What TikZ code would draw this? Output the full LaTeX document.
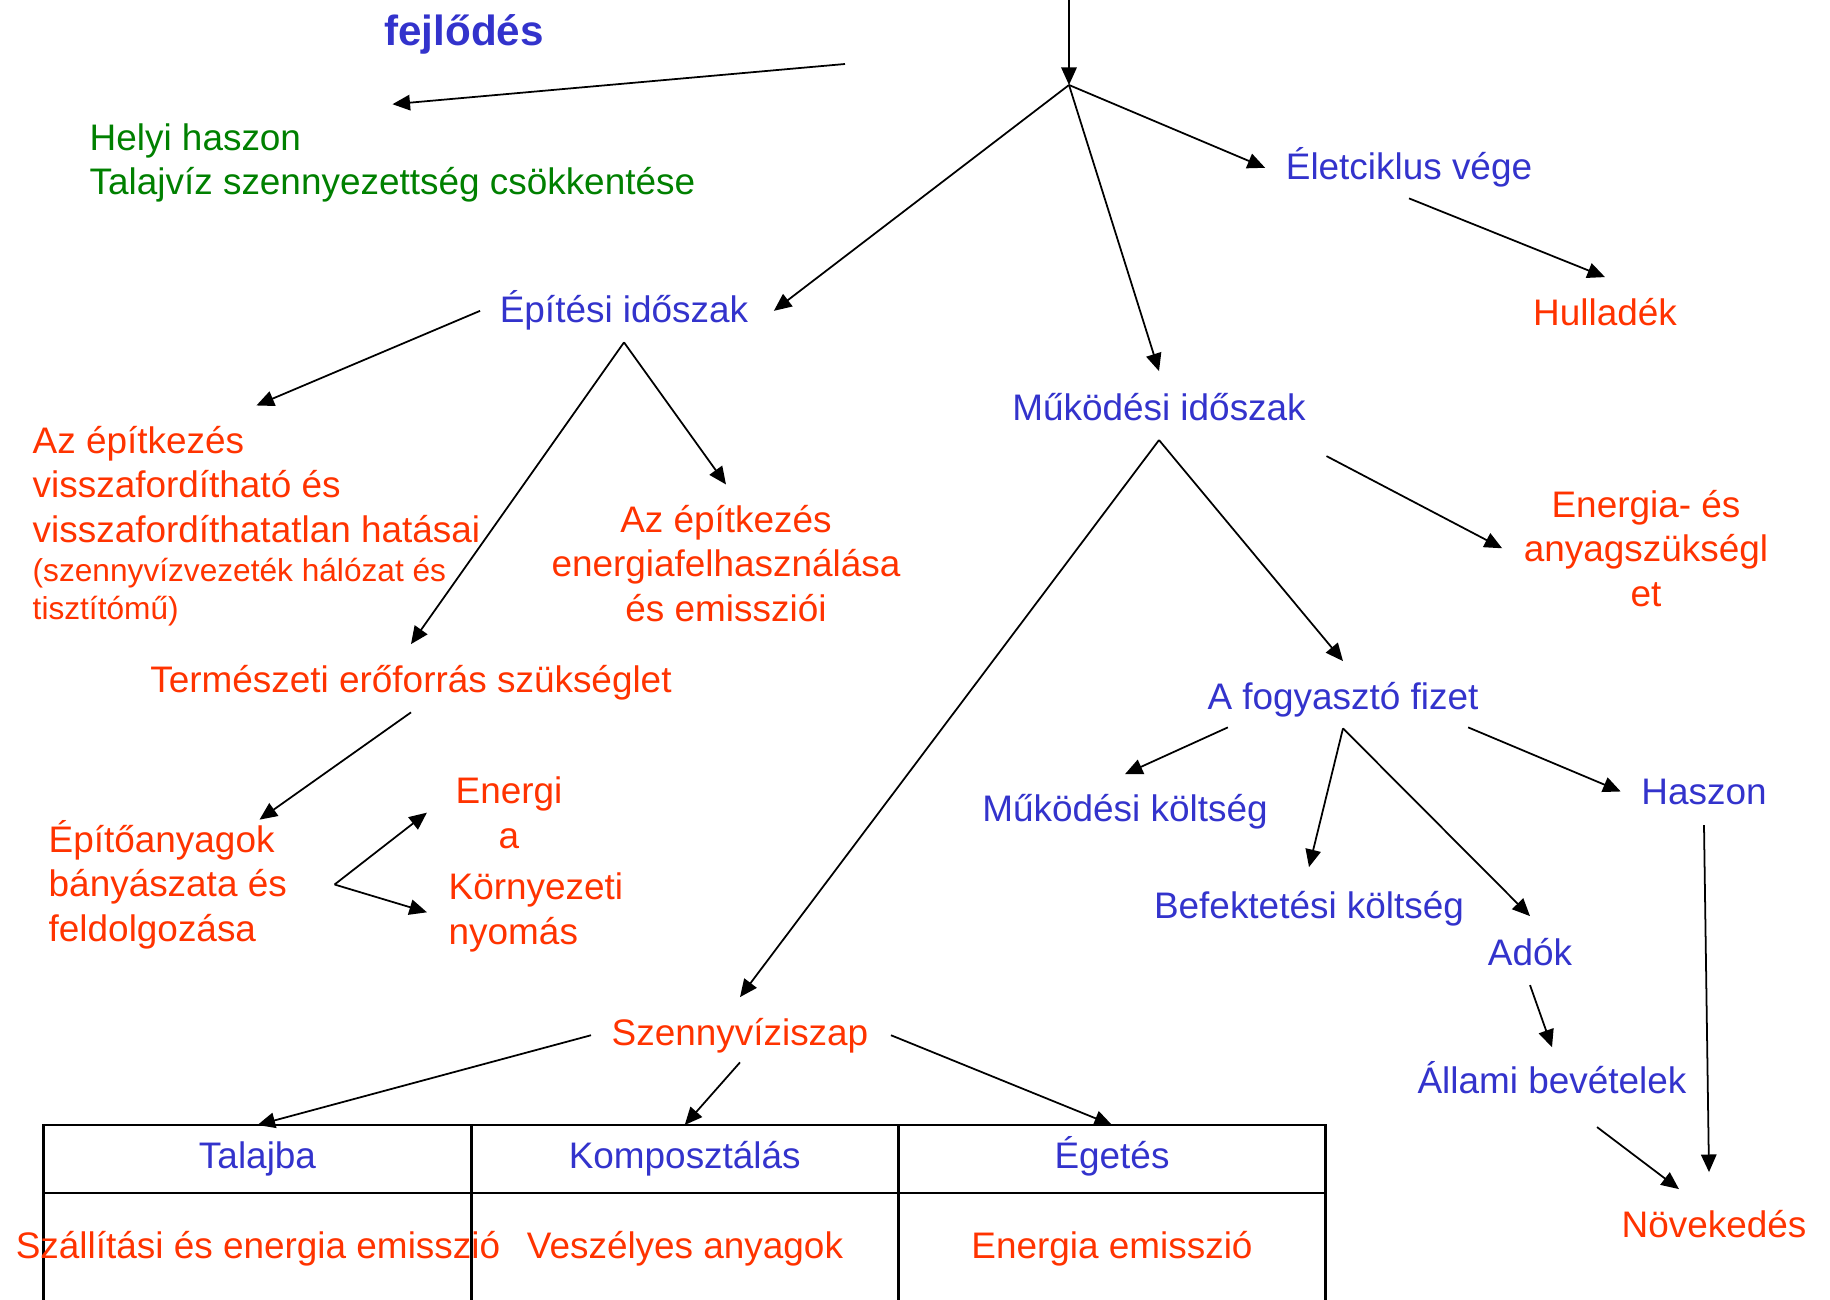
\documentclass[tikz,border=0pt]{standalone}
\usepackage{fontspec}
\setmainfont{Liberation Sans}
\usetikzlibrary{arrows.meta, positioning}
\definecolor{ppblue}{RGB}{51,51,204}
\definecolor{ppred}{RGB}{255,51,0}
\definecolor{ppgreen}{RGB}{0,128,0}
\tikzset{
    lbl/.style={inner sep=0pt, font=\fontsize{10.5}{12.6}\selectfont},
    blue lbl/.style={lbl, text=ppblue},
    red lbl/.style={lbl, text=ppred},
    arr/.style={-{Triangle[length=5pt, width=4.4pt]}, line width=0.5pt},
    cell/.style={draw, line width=0.8pt, minimum width=4.27cm, minimum height=0.68cm,
        inner sep=0pt, outer sep=0pt, text height=0.73em, text depth=0.21em,
        font=\fontsize{10.5}{12.6}\selectfont, text=ppblue},
}
\begin{document}
\begin{tikzpicture}[x=0.01cm, y=-0.01cm]
    \useasboundingbox (0, 0) rectangle (1830, 1300);
    \clip (0, 0) rectangle (1830, 1300);
    \node[anchor=base, inner sep=0pt, text=ppblue, font=\bfseries\fontsize{12}{14}\selectfont] (title) at (464, 46) {fejlődés};
    \node[lbl, text=ppgreen, align=left, anchor=base west] (helyi) at (89, 195) {Helyi haszon\\Talajvíz szennyezettség csökkentése};
    \coordinate (topin) at (1069, -5);
    \coordinate (hub) at (1069, 85);
    \coordinate (helyiin) at (845, 64);
    \node[blue lbl, anchor=base] (eletc) at (1409, 180) {Életciklus vége};
    \node[red lbl, anchor=base] (hull) at (1605, 325) {Hulladék};
    \node[blue lbl, anchor=base] (epit) at (624, 323) {Építési időszak};
    \node[red lbl, align=left, anchor=base west] (hatas) at (32, 542) {Az építkezés\\visszafordítható és\\visszafordíthatatlan hatásai};
    \node[red lbl, font=\fontsize{9}{10.6}\selectfont, align=left, anchor=base west] (hatasnote) at (32, 619) {(szennyvízvezeték hálózat és\\tisztítómű)};
    \node[red lbl, align=center, anchor=base] (energ) at (726, 621) {Az építkezés\\energiafelhasználása\\és emissziói};
    \node[red lbl, anchor=base] (termesz) at (411, 692) {Természeti erőforrás szükséglet};
    \node[red lbl, align=left, anchor=base west] (epito) at (48, 941) {Építőanyagok\\bányászata és\\feldolgozása};
    \node[red lbl, align=center, anchor=base] (enrg) at (509, 848) {Energi\\a};
    \node[red lbl, align=left, anchor=base west] (korny) at (448, 944) {Környezeti\\nyomás};
    \node[blue lbl, anchor=base] (mukod) at (1159, 420) {Működési időszak};
    \node[red lbl, align=center, anchor=base] (enany) at (1646, 606) {Energia- és\\anyagszükségl\\et};
    \node[blue lbl, anchor=base] (fogy) at (1343, 709) {A fogyasztó fizet};
    \node[blue lbl, anchor=base] (mkolt) at (1125, 821) {Működési költség};
    \node[blue lbl, anchor=base] (befekt) at (1309, 918) {Befektetési költség};
    \node[blue lbl, anchor=base] (adok) at (1530, 965) {Adók};
    \node[blue lbl, anchor=base] (haszon) at (1704, 804) {Haszon};
    \node[blue lbl, anchor=base] (allami) at (1552, 1093) {Állami bevételek};
    \node[red lbl, anchor=base] (novek) at (1714, 1237) {Növekedés};
    \node[red lbl, anchor=base] (szenny) at (740, 1045) {Szennyvíziszap};
    \node[cell] (talaj) at (257.5, 1159) {Talajba};
    \node[cell, right=0pt of talaj] (kompo) {Komposztálás};
    \node[cell, right=0pt of kompo] (eget) {Égetés};
    \draw[line width=0.8pt] (talaj.south west) to ++(0, 200);
    \foreach \c in {talaj, kompo, eget}
        \draw[line width=0.8pt] (\c.south east) to ++(0, 200);
    \node[red lbl, anchor=base] (szall) at (258, 1258) {Szállítási és energia emisszió};
    \node[red lbl, anchor=base] (veszely) at (685, 1258) {Veszélyes anyagok};
    \node[red lbl, anchor=base] (egetem) at (1112, 1258) {Energia emisszió};
    \coordinate (epitfork) at ([yshift=-0.11cm]epit.south);
    \coordinate (epitofork) at ([xshift=0.47cm]epito.east);
    \coordinate (mukodfork) at ([yshift=-0.19cm]mukod.south);
    \coordinate (fogyfork) at ([yshift=-0.11cm]fogy.south);
    \draw[arr] (topin) to (hub);
    \draw[arr] (helyiin) to ([yshift=0.19cm]helyi.north);
    \draw[arr] (hub) to ([xshift=-0.2cm]eletc.west);
    \draw[arr] ([yshift=-0.1cm]eletc.south) to ([yshift=0.2cm]hull.north);
    \draw[arr] (hub) to ([xshift=0.25cm]epit.east);
    \draw[arr] (hub) to ([yshift=0.21cm]mukod.north);
    \draw[arr] ([xshift=-0.19cm]epit.west) to ([yshift=0.2cm]hatas.north);
    \draw[arr] (epitfork) to ([yshift=0.2cm]termesz.north);
    \draw[arr] (epitfork) to ([yshift=0.2cm]energ.north);
    \draw[arr] ([yshift=-0.12cm]termesz.south) to ([xshift=-0.28cm]epito.north east);
    \draw[arr] (epitofork) to ([xshift=-0.28cm]enrg.west);
    \draw[arr] (epitofork) to ([xshift=-0.21cm]korny.west);
    \draw[arr] (mukodfork) to ([yshift=0.2cm]szenny.north);
    \draw[arr] (mukodfork) to ([yshift=0.2cm]fogy.north);
    \draw[arr] ([xshift=0.2cm, yshift=-0.35cm]mukod.south east) to ([xshift=-0.21cm]enany.west);
    \draw[arr] ([xshift=0.21cm, yshift=-0.1cm]fogy.south west) to ([yshift=0.19cm]mkolt.north);
    \draw[arr] (fogyfork) to ([yshift=0.23cm]befekt.north);
    \draw[arr] (fogyfork) to ([yshift=0.21cm]adok.north);
    \draw[arr] ([xshift=-0.11cm, yshift=-0.1cm]fogy.south east) to ([xshift=-0.2cm]haszon.west);
    \draw[arr] ([yshift=-0.2cm]haszon.south) to ([xshift=-0.05cm, yshift=0.37cm]novek.north);
    \draw[arr] ([yshift=-0.19cm]adok.south) to ([yshift=0.13cm]allami.north);
    \draw[arr] ([xshift=0.45cm, yshift=-0.33cm]allami.south) to ([xshift=-0.35cm, yshift=0.2cm]novek.north);
    \draw[arr] ([xshift=-0.2cm]szenny.west) to (talaj.north);
    \draw[arr] ([yshift=-0.09cm]szenny.south) to (kompo.north);
    \draw[arr] ([xshift=0.22cm]szenny.east) to (eget.north);
\end{tikzpicture}
\end{document}
